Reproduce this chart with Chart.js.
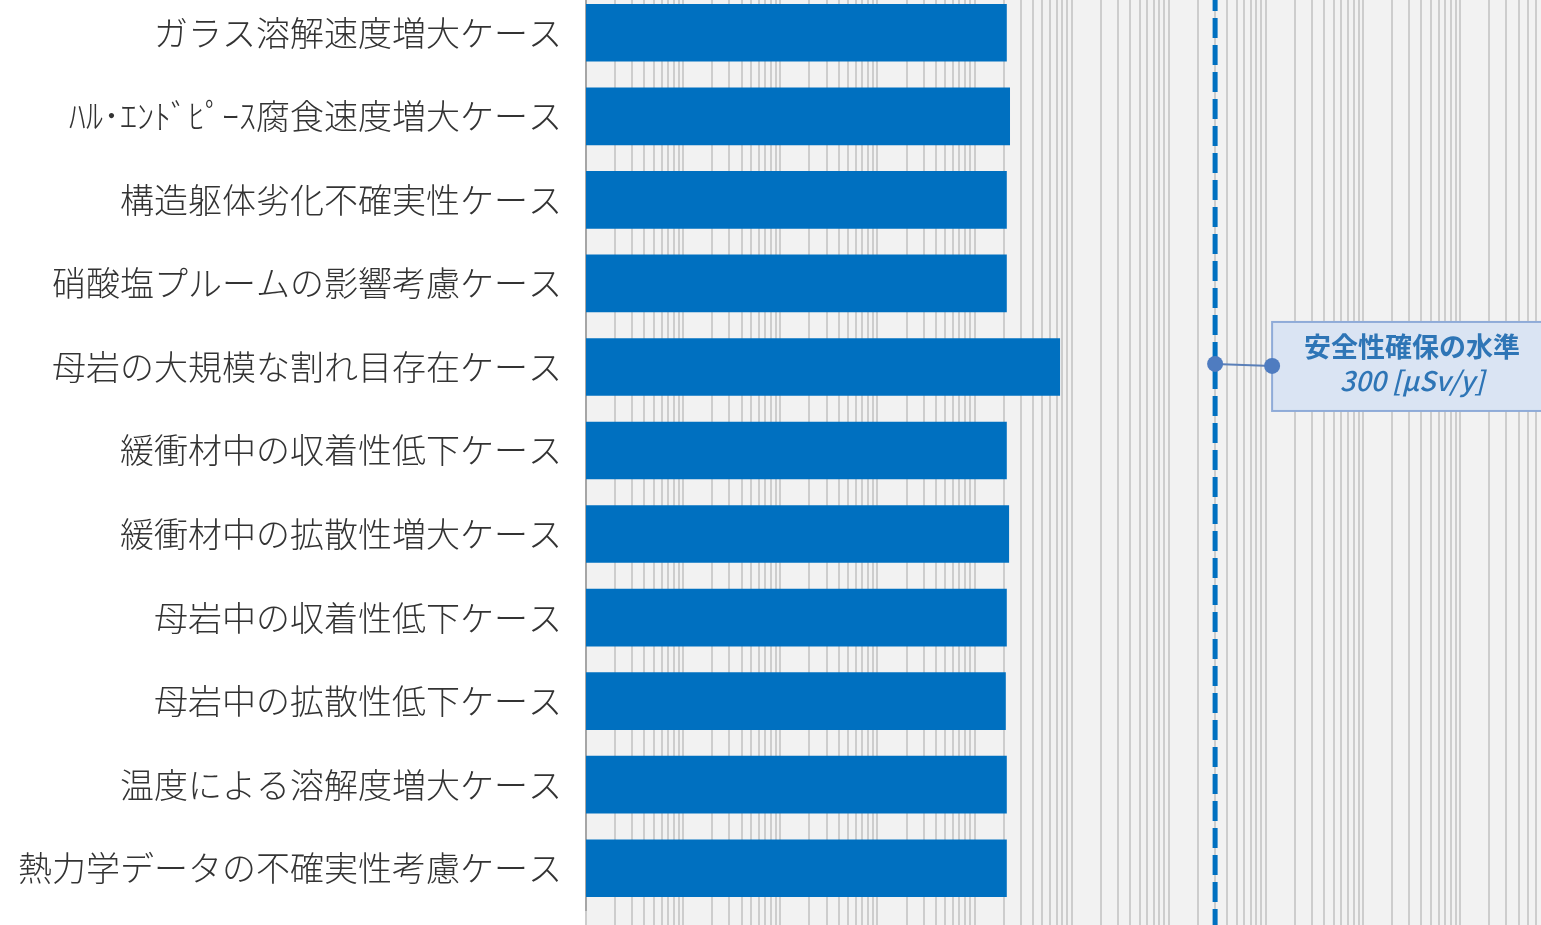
<!DOCTYPE html>
<html>
<head>
<meta charset="utf-8">
<script src="https://cdn.jsdelivr.net/npm/chart.js@4"></script>
<style>
  html, body { margin: 0; padding: 0; background: #fff; overflow: hidden; }
  #wrap { position: absolute; left: 0; top: -9px; width: 1541px; height: 950px; }
</style>
</head>
<body>
<div id="wrap"><canvas id="myChart"></canvas></div>
<script>
// ケース名（上から順）
const categories = [
  'ガラス溶解速度増大ケース',
  'ﾊﾙ･ｴﾝﾄﾞﾋﾟｰｽ腐食速度増大ケース',
  '構造躯体劣化不確実性ケース',
  '硝酸塩プルームの影響考慮ケース',
  '母岩の大規模な割れ目存在ケース',
  '緩衝材中の収着性低下ケース',
  '緩衝材中の拡散性増大ケース',
  '母岩中の収着性低下ケース',
  '母岩中の拡散性低下ケース',
  '温度による溶解度増大ケース',
  '熱力学データの不確実性考慮ケース'
];
// 最大線量 [μSv/y]
const doseValues = [2.15, 2.32, 2.15, 2.15, 7.6, 2.15, 2.27, 2.15, 2.1, 2.15, 2.15];
const safetyLevel = 300;
const safetyLabel = ['安全性確保の水準', '300 [μSv/y]'];
const axisMin = 1e-4;
const axisMax = 6.8e5;

const fontJP = '"Noto Sans CJK JP", "Noto Sans", sans-serif';

// 背景と基準線
const extras = {
  id: 'extras',
  beforeDraw(chart) {
    const { ctx, chartArea } = chart;
    ctx.save();
    ctx.fillStyle = '#f2f2f2';
    ctx.fillRect(chartArea.left, 0, chart.width - chartArea.left, chart.height);
    ctx.restore();
  },
  afterDatasetsDraw(chart) {
    const { ctx } = chart;
    const x = chart.scales.x.getPixelForValue(safetyLevel);
    const y = chart.scales.y.getPixelForValue(4) - 3;
    ctx.save();
    // 破線
    ctx.strokeStyle = '#0070c0';
    ctx.lineWidth = 5;
    ctx.setLineDash([20, 7]);
    ctx.beginPath();
    ctx.moveTo(x, 0);
    ctx.lineTo(x, chart.height);
    ctx.stroke();
    ctx.setLineDash([]);

    // 吹き出し
    const bx = x + 57;
    const by = y - 42;
    const bw = 300;
    const bh = 89;
    ctx.fillStyle = '#dae4f3';
    ctx.strokeStyle = '#8fabd8';
    ctx.lineWidth = 2;
    ctx.fillRect(bx, by, bw, bh);
    ctx.strokeRect(bx, by, bw, bh);

    ctx.strokeStyle = '#5a7fb8';
    ctx.lineWidth = 2;
    ctx.beginPath();
    ctx.moveTo(x, y);
    ctx.lineTo(bx, y + 2);
    ctx.stroke();
    ctx.fillStyle = '#4f7cc0';
    [[x, y], [bx, y + 2]].forEach(([px, py]) => {
      ctx.beginPath();
      ctx.arc(px, py, 8, 0, Math.PI * 2);
      ctx.fill();
    });

    ctx.fillStyle = '#2e75b6';
    ctx.textAlign = 'center';
    ctx.textBaseline = 'middle';
    ctx.font = 'bold 27px ' + fontJP;
    ctx.fillText(safetyLabel[0], bx + 140, y - 17);
    ctx.font = 'italic 500 27px ' + fontJP;
    ctx.fillText(safetyLabel[1], bx + 140, y + 17);
    ctx.restore();
  }
};

const ctx = document.getElementById('myChart');

new Chart(ctx, {
  type: 'bar',
  data: {
    labels: categories,
    datasets: [{
      data: doseValues,
      backgroundColor: '#0070c0',
      borderWidth: 0,
      barPercentage: 0.69,
      categoryPercentage: 1
    }]
  },
  plugins: [extras],
  options: {
    indexAxis: 'y',
    responsive: true,
    maintainAspectRatio: false,
    animation: false,
    layout: { padding: 0 },
    plugins: { legend: { display: false }, tooltip: { enabled: false } },
    scales: {
      x: {
        type: 'logarithmic',
        min: axisMin,
        max: axisMax,
        afterBuildTicks(scale) {
          const t = [];
          for (let e = -4; e <= 5; e++) {
            for (let m = 1; m <= 9; m++) {
              const v = Number(m + 'e' + e);
              if (v <= axisMax) t.push({ value: v });
            }
          }
          scale.ticks = t;
        },
        afterFit(scale) {
          scale.height = 31;
          scale.paddingLeft = 0;
          scale.paddingRight = 0;
        },
        ticks: { display: false, autoSkip: false },
        grid: { color: '#cdcdcd', lineWidth: 2, drawTicks: true, tickLength: 31 },
        border: { display: false }
      },
      y: {
        afterFit(scale) {
          scale.width = 586;
          scale.paddingTop = 0;
          scale.paddingBottom = 0;
        },
        ticks: {
          color: '#333',
          padding: 24,
          font: { family: fontJP, size: 34, weight: 300 }
        },
        grid: { display: false, drawTicks: false },
        border: { display: true, color: '#a6a6a6', width: 2 }
      }
    }
  }
});
</script>
</body>
</html>
